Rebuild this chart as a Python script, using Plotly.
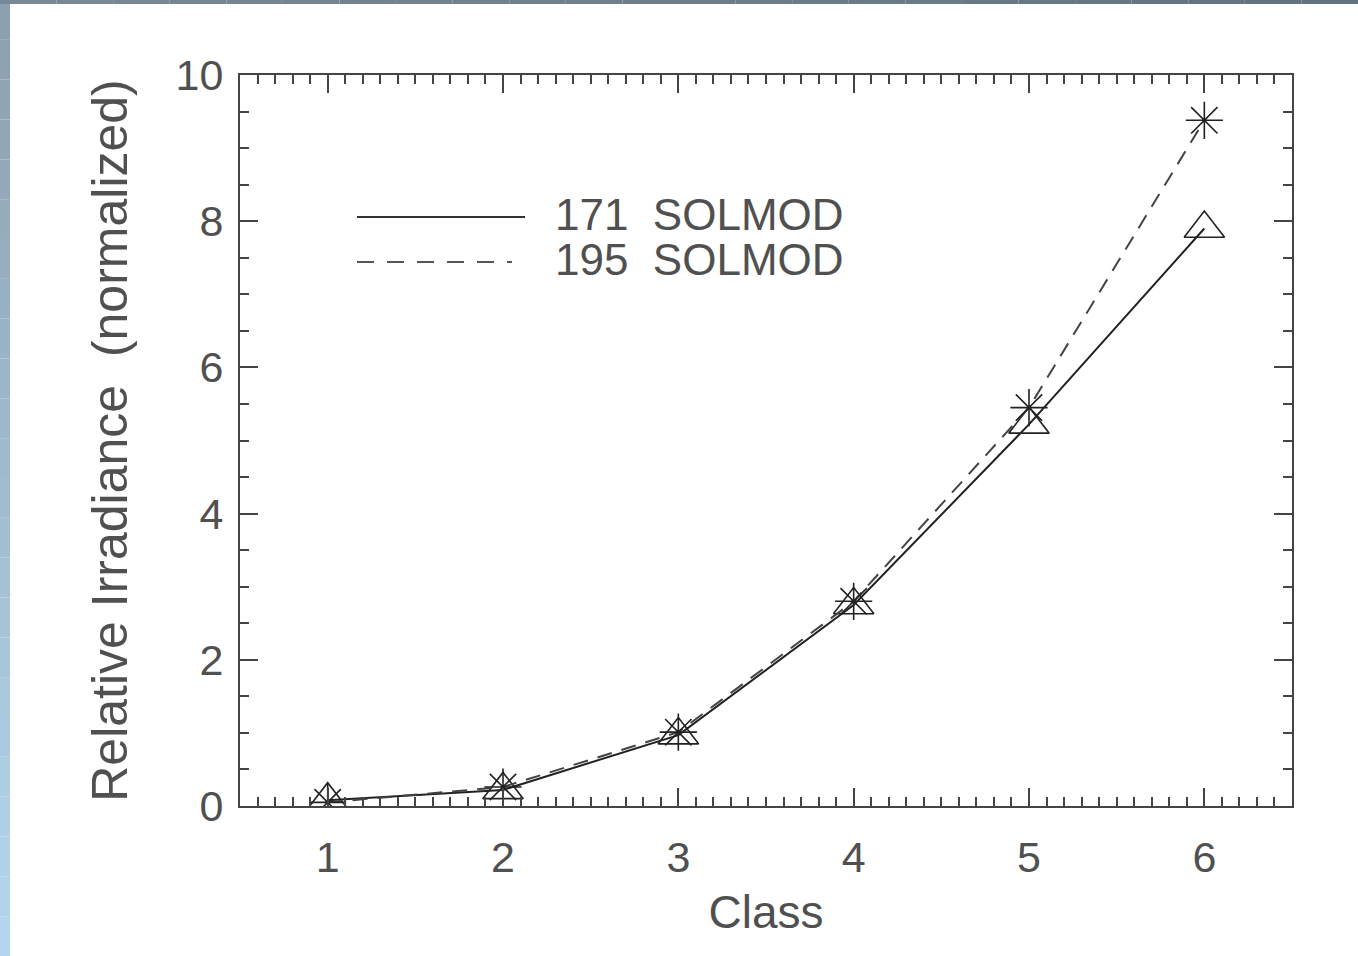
import plotly.graph_objects as go

# ---- data ----
classes = [1, 2, 3, 4, 5, 6]
irr_171 = [0.08, 0.22, 0.97, 2.75, 5.22, 7.9]
irr_195 = [0.05, 0.26, 1.01, 2.80, 5.45, 9.38]
series_names = ["171\u00a0 SOLMOD", "195\u00a0 SOLMOD"]
x_ticks = [1, 2, 3, 4, 5, 6]
y_ticks = [0, 2, 4, 6, 8, 10]

W, H = 1358, 956
L, R, T, B = 240, 66, 75, 150
PW, PH = W - L - R, H - T - B

def px2paper(px, py):
    return (px - L) / PW, (H - B - py) / PH

FONT = "Liberation Sans, Arial, Helvetica, sans-serif"
TXT = "#505050"

fig = go.Figure()
fig.add_trace(go.Scatter(
    x=classes, y=irr_171, mode="lines+markers", name=series_names[0],
    line=dict(color="#222222", width=2),
    marker=dict(symbol="triangle-up-open", size=35, color="#222222",
                line=dict(color="#222222", width=1.6)),
    showlegend=False,
))
fig.add_trace(go.Scatter(
    x=classes, y=irr_195, mode="lines+markers", name=series_names[1],
    line=dict(color="#444444", width=2, dash="15px,10px"),
    marker=dict(symbol="asterisk-open", size=31, color="#222222",
                line=dict(color="#222222", width=1.6)),
    showlegend=False,
))

shapes = []
# legend line samples (paper coordinates)
x0, y0 = px2paper(357, 217)
x1, _ = px2paper(525, 217)
shapes.append(dict(type="line", xref="paper", yref="paper", x0=x0, x1=x1, y0=y0, y1=y0,
                   line=dict(color="#333333", width=2)))
x0, y0 = px2paper(357, 262)
x1, _ = px2paper(512, 262)
shapes.append(dict(type="line", xref="paper", yref="paper", x0=x0, x1=x1, y0=y0, y1=y0,
                   line=dict(color="#555555", width=2, dash="17px,13px")))

# decorative frame (left and top strips with gradient bands)
def lerp(c1, c2, t):
    return "rgb(%d,%d,%d)" % tuple(round(a + (b - a) * t) for a, b in zip(c1, c2))

n = 24
for i in range(n):
    t = i / (n - 1)
    ya = i * H / n
    yb = (i + 1) * H / n
    px0, py0 = px2paper(0, ya)
    px1, py1 = px2paper(10, yb)
    shapes.append(dict(type="rect", xref="paper", yref="paper", x0=px0, x1=px1, y0=py1, y1=py0,
                       line=dict(width=0), fillcolor=lerp((140, 160, 176), (180, 214, 238), t),
                       layer="above"))
for i in range(n):
    t = i / (n - 1)
    xa = i * W / n
    xb = (i + 1) * W / n
    px0, py0 = px2paper(xa, 0)
    px1, py1 = px2paper(xb, 4)
    shapes.append(dict(type="rect", xref="paper", yref="paper", x0=px0, x1=px1, y0=py1, y1=py0,
                       line=dict(width=0), fillcolor=lerp((120, 138, 152), (100, 114, 126), t),
                       layer="above"))

annotations = []
for name, py in zip(series_names, [214, 259]):
    ax_, ay_ = px2paper(553, py)
    annotations.append(dict(text=name, xref="paper", yref="paper", x=ax_, y=ay_,
                            xanchor="left", yanchor="middle", showarrow=False,
                            font=dict(family=FONT, size=44, color=TXT)))

axis_common = dict(
    showgrid=False, zeroline=False, showline=True, linecolor="#444444", linewidth=2,
    mirror="ticks", ticks="inside", ticklen=18, tickwidth=1.5, tickcolor="#444444",
    tickfont=dict(family=FONT, size=43, color=TXT),
)

fig.update_layout(
    width=W, height=H,
    margin=dict(l=L, r=R, t=T, b=B),
    paper_bgcolor="white", plot_bgcolor="white",
    shapes=shapes, annotations=annotations,
    xaxis=dict(**axis_common, range=[0.5, 6.5], tickvals=x_ticks, ticktext=[str(v) for v in x_ticks],
               minor=dict(dtick=0.1, tick0=0.5, ticks="inside", ticklen=9, tickwidth=1.5, tickcolor="#444444"),
               ticklabelstandoff=12,
               title=dict(text="Class", font=dict(family=FONT, size=46, color=TXT), standoff=16)),
    yaxis=dict(**axis_common, range=[0, 10], tickvals=y_ticks, ticktext=[str(v) for v in y_ticks],
               minor=dict(dtick=0.5, tick0=0, ticks="inside", ticklen=9, tickwidth=1.5, tickcolor="#444444"),
               ticklabelstandoff=6,
               title=dict(text="Relative Irradiance\u00a0 (normalized)", font=dict(family=FONT, size=50, color=TXT),
                          standoff=32)),
)

fig.write_html("out.html", config={"displayModeBar": False},
               post_script="document.body.style.margin='0';document.body.style.overflow='hidden';")
